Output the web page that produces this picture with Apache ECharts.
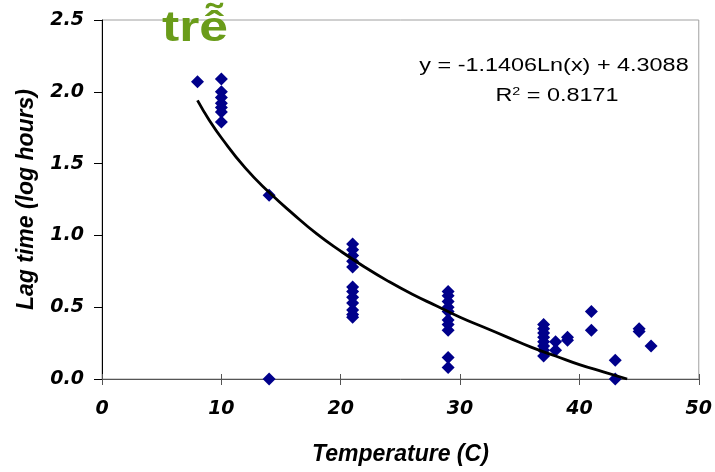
<!DOCTYPE html>
<html>
<head>
<meta charset="utf-8">
<script src="https://cdn.jsdelivr.net/npm/echarts@6/dist/echarts.min.js"></script>
<style>html,body{margin:0;padding:0;background:#fff}#c{width:715px;height:472px}</style>
</head>
<body>
<div id="c"></div>
<script>
// Observed data (temperature °C, lag time log hours)
const tempX = [8, 10,10,10,10,10,10,10, 14,14,
  21,21,21,21,21,21,21,21,21,21,21,21,
  29,29,29,29,29,29,29,29,29,29,
  37,37,37,37,37,37,37,37, 38,38, 39,39, 41,41, 43,43, 45,45, 46];
const lagY = [2.07, 2.09,2.00,1.96,1.92,1.89,1.86,1.79, 1.28,0.00,
  0.94,0.90,0.86,0.82,0.78,0.64,0.61,0.57,0.53,0.48,0.45,0.43,
  0.61,0.58,0.54,0.50,0.47,0.41,0.38,0.34,0.15,0.08,
  0.38,0.35,0.32,0.29,0.26,0.23,0.20,0.16, 0.26,0.20, 0.29,0.27, 0.47,0.34, 0.13,0.00, 0.35,0.33, 0.23];
// Trend line
const trendX = [8,9,10,12,14,16,18,20,22,24,26,28,30,32,34,36,38,40,42,44];
const trendY = [1.94,1.80,1.68,1.47,1.30,1.15,1.01,0.89,0.78,0.68,0.59,0.51,0.43,0.36,0.29,0.22,0.16,0.10,0.05,0.00];
const xTicks = {min: 0, max: 50, interval: 10};
const yTicks = {min: 0, max: 2.5, interval: 0.5};
const titleText = 'trễ';
const eqText = 'y = -1.1406Ln(x) + 4.3088';
const r2Main = 'R';
const r2Sup = '2';
const r2Rest = ' = 0.8171';
const xName = 'Temperature (C)';
const yName = 'Lag time (log hours)';

const chart = echarts.init(document.getElementById('c'), null, {renderer: 'canvas'});
const tickFont = {fontFamily: 'DejaVu Sans', fontWeight: 'bold', fontStyle: 'italic', fontSize: 19, color: '#000'};
const nameFont = {fontFamily: 'Liberation Sans', fontWeight: 'bold', fontStyle: 'italic', fontSize: 23, color: '#000'};
chart.setOption({
  animation: false,
  backgroundColor: '#fff',
  grid: {left: 102, right: 12, top: 20, bottom: 93, show: true, borderColor: '#a0a0a0', borderWidth: 1, backgroundColor: 'transparent'},
  xAxis: [{
    type: 'value', min: xTicks.min, max: xTicks.max, interval: xTicks.interval,
    name: xName, nameLocation: 'middle', nameGap: 64, nameTextStyle: nameFont,
    axisLine: {show: true, onZero: false, lineStyle: {color: '#555', width: 1}},
    axisTick: {show: true, inside: false, length: 6, lineStyle: {color: '#555'}},
    axisLabel: Object.assign({margin: 21}, tickFont),
    splitLine: {show: false}
  }, {
    type: 'value', min: xTicks.min, max: xTicks.max, interval: xTicks.interval, position: 'bottom',
    axisLine: {show: false}, axisLabel: {show: false}, splitLine: {show: false},
    axisTick: {show: true, inside: true, length: 5, lineStyle: {color: '#555'}}
  }],
  yAxis: {
    type: 'value', min: yTicks.min, max: yTicks.max, interval: yTicks.interval,
    name: yName, nameLocation: 'middle', nameGap: 64, nameTextStyle: nameFont,
    axisLine: {show: true, onZero: false, lineStyle: {color: '#000', width: 1}},
    axisTick: {show: true, inside: false, length: 8, lineStyle: {color: '#000'}},
    axisLabel: Object.assign({margin: 18, formatter: v => v.toFixed(1)}, tickFont),
    splitLine: {show: false}
  },
  series: [{
    type: 'scatter', symbol: 'diamond', symbolSize: 13, clip: false,
    itemStyle: {color: '#00008b', opacity: 1},
    data: tempX.map((x, i) => [x, lagY[i]])
  }, {
    type: 'line', smooth: true, showSymbol: false, symbol: 'none', z: 5,
    lineStyle: {color: '#000', width: 2.8},
    data: trendX.map((x, i) => [x, trendY[i]])
  }],
  graphic: [
    {type: 'text', x: 195, y: 29, scaleX: 1.2, z: 100, style: {text: titleText, fill: '#6a9c1a', font: 'bold 43px "Liberation Sans"', textAlign: 'center', textVerticalAlign: 'middle'}},
    {type: 'text', x: 554, y: 66, scaleX: 1.3, z: 100, style: {text: eqText, fill: '#000', font: '18px "Liberation Sans"', textAlign: 'center', textVerticalAlign: 'middle'}},
    {type: 'text', x: 557, y: 96, scaleX: 1.3, z: 100, style: {
      text: '{a|' + r2Main + '}{s|' + r2Sup + '}{a|' + r2Rest + '}',
      textAlign: 'center', textVerticalAlign: 'middle',
      rich: {
        a: {fontFamily: 'Liberation Sans', fontSize: 18, fill: '#000', color: '#000'},
        s: {fontFamily: 'Liberation Sans', fontSize: 11, fill: '#000', color: '#000', verticalAlign: 'top', padding: [0, 0, 8, 0]}
      }
    }}
  ]
});
</script>
</body>
</html>
